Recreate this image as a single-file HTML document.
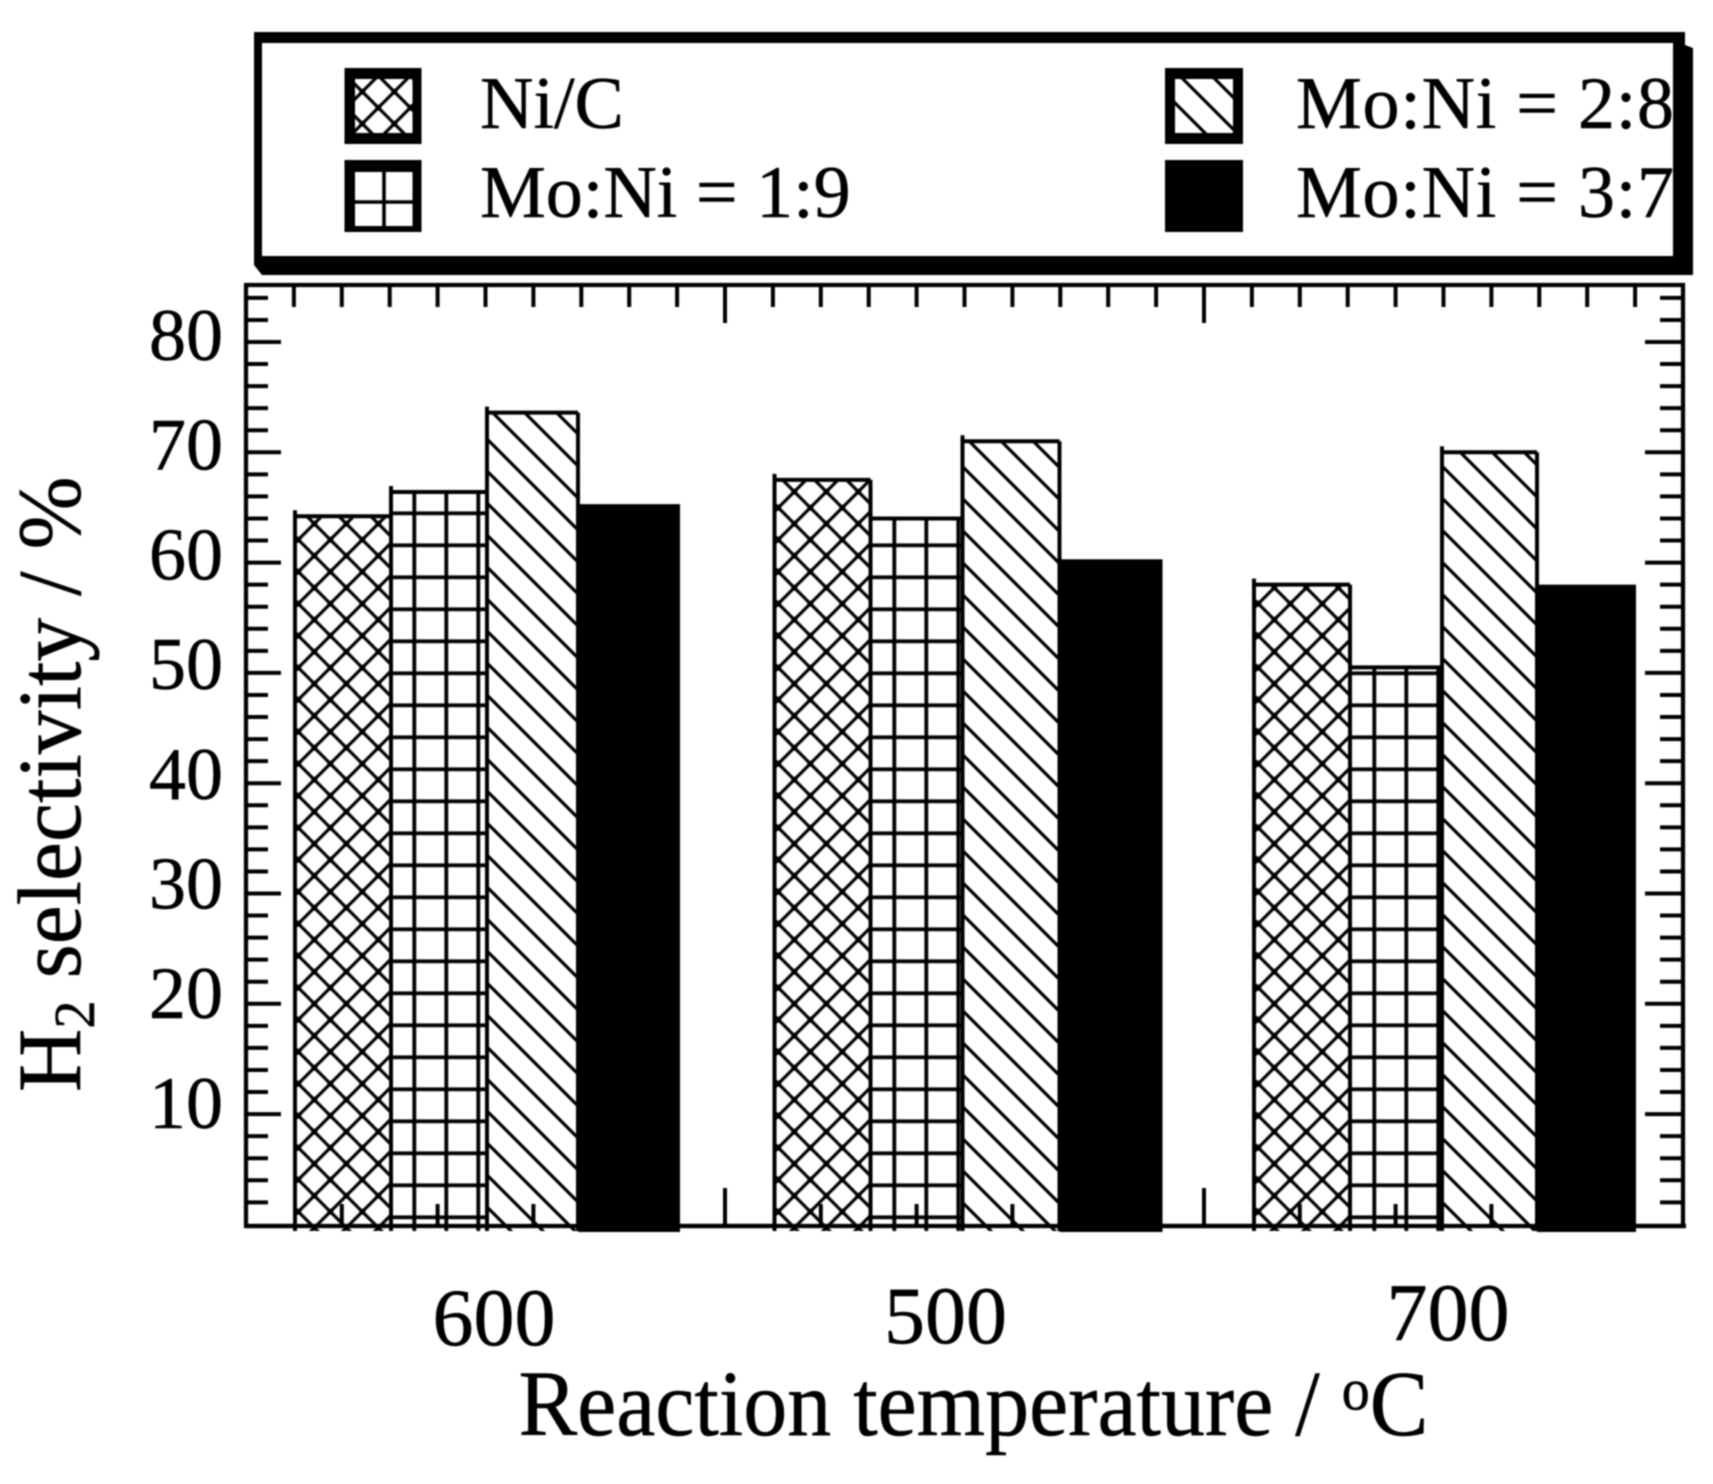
<!DOCTYPE html>
<html lang="en">
<head>
<meta charset="utf-8">
<title>H2 selectivity chart</title>
<style>
html,body{margin:0;padding:0;background:#fff;}
svg{display:block;filter:blur(0.8px);}
text{font-family:"Liberation Serif","Noto Serif CJK SC",serif;fill:#000;stroke:#000;stroke-width:0.5px;}
</style>
</head>
<body>
<svg id="chart" xmlns="http://www.w3.org/2000/svg" width="1713" height="1484" viewBox="0 0 1713 1484">
  <defs>
    <pattern id="cross-hatch" patternUnits="userSpaceOnUse" width="32" height="32" patternTransform="translate(10.3 27.7)">
      <rect width="32" height="32" fill="#fff"/>
      <path d="M-8,-8L40,40M40,-8L-8,40M-8,8L8,-8M24,-8L40,8M-8,24L8,40M24,40L40,24" stroke="#000" stroke-width="3.2" fill="none"/>
      <rect x="13" y="13" width="6" height="6" fill="#000"/>
      <rect x="-3" y="-3" width="6" height="6" fill="#000"/>
      <rect x="29" y="-3" width="6" height="6" fill="#000"/>
      <rect x="-3" y="29" width="6" height="6" fill="#000"/>
      <rect x="29" y="29" width="6" height="6" fill="#000"/>
    </pattern>
    <pattern id="grid-hatch" patternUnits="userSpaceOnUse" width="32" height="32" patternTransform="translate(14.3 -14.7)">
      <rect width="32" height="32" fill="#fff"/>
      <path d="M16,0V32M0,16H32" stroke="#000" stroke-width="3.8" fill="none"/>
    </pattern>
    <pattern id="diagonal-hatch" patternUnits="userSpaceOnUse" width="32" height="32">
      <rect width="32" height="32" fill="#fff"/>
      <path d="M-8,-24L40,24M-24,-8L24,40" stroke="#000" stroke-width="3.2" fill="none"/>
    </pattern>
  </defs>

  <g>
    <path d="M254,32H1685V45L1693,48V275H262L254,265Z" fill="#000"/>
    <rect x="262" y="43" width="1411" height="213" fill="#fff"/>

    <g>
      <rect x="344.500" y="68" width="77" height="76" fill="#000"/>
      <rect x="355" y="79" width="57.500" height="54" fill="url(#cross-hatch)"/>
      <text x="480" y="128" font-size="74">Ni/C</text>
    </g>
    <g>
      <rect x="344.500" y="160" width="77" height="72" fill="#000"/>
      <rect x="355" y="172" width="57.500" height="54" fill="#fff"/>
      <path d="M384,172V226M355,202H412.500" stroke="#000" stroke-width="3.600" fill="none"/>
      <text x="480" y="217" font-size="74">Mo:Ni = 1:9</text>
    </g>
    <g>
      <rect x="1165" y="68" width="78" height="76" fill="#000"/>
      <rect x="1175" y="79" width="58" height="54" fill="url(#diagonal-hatch)"/>
      <text x="1296" y="128" font-size="74" textLength="378" lengthAdjust="spacing">Mo:Ni = 2:8</text>
    </g>
    <g>
      <rect x="1165" y="160" width="78" height="72" fill="#000"/>
      <text x="1296" y="217" font-size="74" textLength="378" lengthAdjust="spacing">Mo:Ni = 3:7</text>
    </g>
  </g>

  <g id="plot"></g>

  <text transform="translate(80 1092) rotate(-90) scale(0.975 1)" font-size="90">H<tspan font-size="58" dy="14">2</tspan><tspan dy="-14"> selectivity / %</tspan></text>
  <text transform="translate(518.5 1435) scale(1 1.06)" font-size="88">Reaction temperature / <tspan font-size="56" dy="-24">o</tspan><tspan dy="24">C</tspan></text>
</svg>

<script>
const categories = ['600', '500', '700'];
const niC = [64.2, 67.5, 58];
const mo19 = [66.4, 64, 50.5];
const mo28 = [73.6, 71, 70];
const mo37 = [65.3, 60.3, 58];
const yTickLabels = [10, 20, 30, 40, 50, 60, 70, 80];
const yMinorTicks = [2, 4, 6, 8, 12, 14, 16, 18, 22, 24, 26, 28, 32, 34, 36, 38, 42, 44, 46, 48, 52, 54, 56, 58, 62, 64, 66, 68, 72, 74, 76, 78, 82, 84];

const NS = 'http://www.w3.org/2000/svg';
const plot = document.getElementById('plot');
const AXIS_LEFT = 246, AXIS_RIGHT = 1683, AXIS_TOP = 285, AXIS_BOTTOM = 1226;
const BAR_FLOOR = 1231;

function yScale(v) { return 342 + (80 - v) * 11.03; }
function yLabelBaseline(v) { return 360 + (80 - v) * 10.97; }
function xTick(i) { return AXIS_LEFT + (AXIS_RIGHT - AXIS_LEFT) / 30 * i; }
function groupLeft(g) { return 295 + 479.5 * g; }
const barEdgeLayout = [
  [0, 96, 192, 283, 385],
  [0, 96, 188, 285, 388],
  [0, 96, 188, 283, 382]
];
const categoryLabelNudge = [199, 171, 194];
const categoryBaseline = [1345, 1343, 1340];

function mk(tag, attrs, parent) {
  const el = document.createElementNS(NS, tag);
  for (const k in attrs) el.setAttribute(k, attrs[k]);
  (parent || plot).appendChild(el);
  return el;
}

function tickLine(name, x1, y1, x2, y2, width) {
  const el = mk('line', { x1: x1, y1: y1, x2: x2, y2: y2, stroke: '#000', 'stroke-width': width });
  
  
  return el;
}

const seriesList = [
  { key: 'ni-c', values: niC, fill: 'url(#cross-hatch)' },
  { key: 'mo-ni-1-9', values: mo19, fill: 'url(#grid-hatch)' },
  { key: 'mo-ni-2-8', values: mo28, fill: 'url(#diagonal-hatch)' },
  { key: 'mo-ni-3-7', values: mo37, fill: '#000' }
];

// frame
const frame = mk('path', {
  d: 'M' + AXIS_LEFT + ',' + AXIS_BOTTOM + 'V' + AXIS_TOP + 'H' + AXIS_RIGHT + 'V' + AXIS_BOTTOM + 'Z',
  fill: 'none', stroke: '#000', 'stroke-width': 4.2
});



// top ticks
for (let i = 1; i < 30; i++) {
  const major = i % 10 === 0;
  tickLine(major ? 'top-major-tick' : 'top-minor-tick', xTick(i), AXIS_TOP, xTick(i), major ? 323 : 307, 4);
}

// y ticks, both sides
yTickLabels.forEach(function (v) {
  const y = yScale(v);
  tickLine('left-major-tick', AXIS_LEFT, y, 281, y, 4);
  tickLine('right-major-tick', AXIS_RIGHT, y, 1645, y, 4);
  const label = mk('text', { x: 223, y: yLabelBaseline(v), 'font-size': 74, 'text-anchor': 'end' });
  
  
  label.textContent = String(v);
});
yMinorTicks.forEach(function (v) {
  const y = yScale(v);
  tickLine('left-minor-tick', AXIS_LEFT, y, 268, y, 4);
  tickLine('right-minor-tick', AXIS_RIGHT, y, 1660, y, 4);
});

// bars
seriesList.forEach(function (series, s) {
  series.values.forEach(function (v, g) {
    const x = groupLeft(g) + barEdgeLayout[g][s];
    const w = barEdgeLayout[g][s + 1] - barEdgeLayout[g][s];
    const top = yScale(v);
    const solid = s === 3;
    const bar = mk('rect', { x: x, y: top, width: w, height: (solid ? BAR_FLOOR + 1 : BAR_FLOOR) - top, fill: series.fill });
    
    
    if (!solid) {
      const edge = mk('path', {
        d: 'M' + x + ',' + BAR_FLOOR + 'V' + (top - 6) + 'M' + (x - 1.7) + ',' + top + 'H' + (x + w) + 'M' + (x + w) + ',' + top + 'V' + BAR_FLOOR,
        fill: 'none', stroke: '#000', 'stroke-width': 4
      });
      
      
    }
  });
});

// bottom axis line and ticks on top of the bars
tickLine('x-axis-line', AXIS_LEFT, AXIS_BOTTOM, AXIS_RIGHT + 3, AXIS_BOTTOM, 4.2);
for (let i = 2; i < 30; i += 2) {
  const major = i % 10 === 0;
  tickLine(major ? 'bottom-major-tick' : 'bottom-minor-tick', xTick(i), AXIS_BOTTOM, xTick(i), major ? 1188 : 1204, 4);
}

// category labels
categories.forEach(function (c, g) {
  const label = mk('text', { x: groupLeft(g) + categoryLabelNudge[g], y: categoryBaseline[g], 'font-size': 82, 'text-anchor': 'middle' });
  
  
  label.textContent = c;
});
</script>
</body>
</html>
